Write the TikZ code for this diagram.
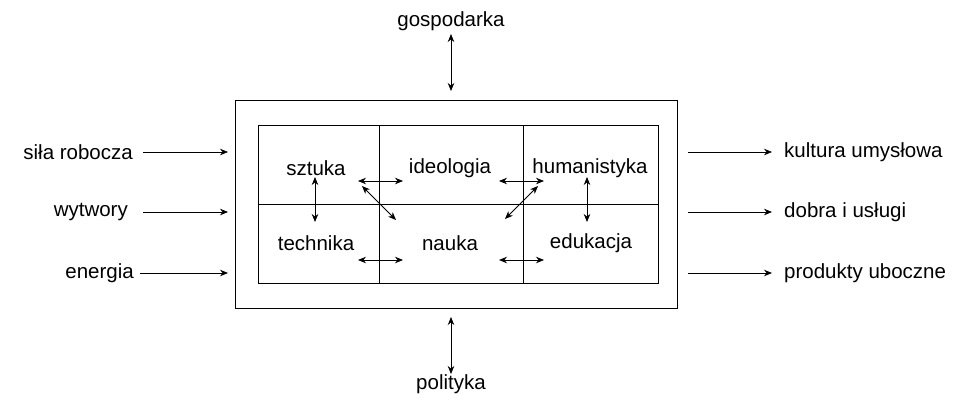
\documentclass[tikz,border=0pt]{standalone}
\usepackage{fontspec}
\setmainfont{Liberation Sans}
\usetikzlibrary{arrows.meta}
\begin{document}
\begin{tikzpicture}[x=1pt,y=-1pt,
  lbl/.style={font=\fontsize{20.5}{24}\selectfont, inner sep=0pt},
  box/.style={draw, line width=0.9pt},
  conn/.style={line width=0.8pt, -{Stealth[length=8pt,width=6.5pt]}},
  biconn/.style={line width=0.8pt, {Stealth[length=8pt,width=6.5pt]}-{Stealth[length=8pt,width=6.5pt]}}]
\useasboundingbox (0,0) rectangle (967,400);
% frames
\node[box, minimum width=442pt, minimum height=208pt, inner sep=0pt, anchor=north west] (outer) at (235,100) {};
\node[box, minimum width=121pt, minimum height=79pt, inner sep=0pt, anchor=north west] (c11) at (258,125) {};
\node[box, minimum width=144pt, minimum height=79pt, inner sep=0pt, anchor=north west] (c12) at (379,125) {};
\node[box, minimum width=135pt, minimum height=79pt, inner sep=0pt, anchor=north west] (c13) at (523,125) {};
\node[box, minimum width=121pt, minimum height=79pt, inner sep=0pt, anchor=north west] (c21) at (258,204) {};
\node[box, minimum width=144pt, minimum height=79pt, inner sep=0pt, anchor=north west] (c22) at (379,204) {};
\node[box, minimum width=135pt, minimum height=79pt, inner sep=0pt, anchor=north west] (c23) at (523,204) {};
% cell labels
\node[lbl] (sztuka) at (316,168) {sztuka};
\node[lbl] (ideologia) at (450,168) {ideologia};
\node[lbl] (human) at (590,168) {humanistyka};
\node[lbl] (technika) at (316,243) {technika};
\node[lbl] (nauka) at (450,243) {nauka};
\node[lbl] (eduk) at (591,243) {edukacja};
% inner arrow anchors
\coordinate (a1) at (315,177); \coordinate (a2) at (315,222);
\coordinate (b1) at (358,181); \coordinate (b2) at (403,181);
\coordinate (d1) at (362,186); \coordinate (d2) at (396,220);
\coordinate (e1) at (358,260); \coordinate (e2) at (403,260);
\coordinate (f1) at (499,181); \coordinate (f2) at (544,181);
\coordinate (g1) at (538,186); \coordinate (g2) at (505,219);
\coordinate (h1) at (499,260); \coordinate (h2) at (544,260);
\coordinate (k1) at (587,177); \coordinate (k2) at (587,222);
\draw[biconn] (a1) -- (a2);
\draw[biconn] (b1) -- (b2);
\draw[biconn] (d1) -- (d2);
\draw[biconn] (e1) -- (e2);
\draw[biconn] (f1) -- (f2);
\draw[biconn] (g1) -- (g2);
\draw[biconn] (h1) -- (h2);
\draw[biconn] (k1) -- (k2);
% top / bottom
\node[lbl] (gosp) at (451,21) {gospodarka};
\node[lbl] (polit) at (451,384) {polityka};
\coordinate (t1) at (451,34); \coordinate (t2) at (451,91);
\coordinate (u1) at (451,317); \coordinate (u2) at (451,374);
\draw[biconn] (t1) -- (t2);
\draw[biconn] (u1) -- (u2);
% left inputs
\node[lbl, anchor=east] (sila) at (133,152) {siła robocza};
\node[lbl, anchor=east] (wytw) at (128,212) {wytwory};
\node[lbl, anchor=east] (ener) at (134,273) {energia};
\coordinate (l1) at (228,152); \coordinate (l2) at (228,212); \coordinate (l3) at (228,273);
\draw[conn] (sila.east) ++(10,0) -- (l1);
\draw[conn] (wytw.east) ++(15,0) -- (l2);
\draw[conn] (ener.east) ++(6,0) -- (l3);
% right outputs
\node[lbl, anchor=west] (kult) at (784,152) {kultura umysłowa};
\node[lbl, anchor=west] (dobra) at (784,212) {dobra i usługi};
\node[lbl, anchor=west] (prod) at (784,273) {produkty uboczne};
\coordinate (r1) at (688,152); \coordinate (r2) at (688,212); \coordinate (r3) at (688,273);
\draw[conn] (r1) -- ([xshift=-12pt]kult.west);
\draw[conn] (r2) -- ([xshift=-12pt]dobra.west);
\draw[conn] (r3) -- ([xshift=-12pt]prod.west);
\end{tikzpicture}
\end{document}
